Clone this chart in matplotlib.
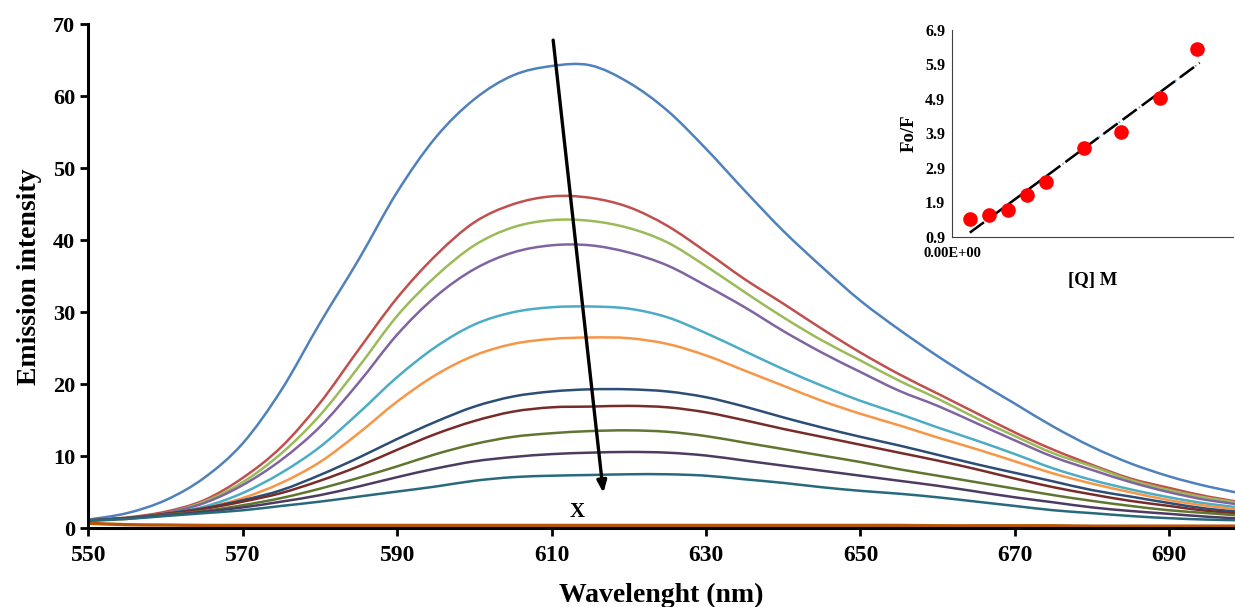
import numpy as np
import matplotlib.pyplot as plt
from matplotlib.path import Path
from matplotlib.patches import PathPatch
from matplotlib.ticker import FormatStrFormatter

plt.rcParams['font.family'] = ['Liberation Serif', 'DejaVu Serif']
plt.rcParams['font.weight'] = 'bold'

# Emission spectra (nm vs intensity), one series per quencher addition
wavelength = [550, 555, 560, 565, 570, 575, 580, 585, 590, 595, 600, 605, 610, 615, 620, 625,
              630, 635, 640, 645, 650, 655, 660, 665, 670, 675, 680, 685, 690, 695, 700]

s1 = [1.2, 2.1, 3.9, 7.0, 11.8, 19.2, 28.5, 37.3, 46.7, 54.3, 59.6, 62.9, 64.2, 64.3, 61.9, 58.0,
      52.7, 46.9, 41.3, 36.3, 31.6, 27.6, 23.9, 20.5, 17.3, 14.1, 11.3, 9.0, 7.2, 5.8, 4.7]
s2 = [1.1, 1.5, 2.3, 3.9, 7.0, 11.3, 17.4, 24.8, 32.0, 37.9, 42.5, 45.0, 46.1, 45.9, 44.6, 42.0,
      38.4, 34.6, 31.2, 27.7, 24.4, 21.4, 18.7, 16.0, 13.3, 10.9, 8.8, 6.9, 5.6, 4.4, 3.5]
s3 = [1.1, 1.4, 2.1, 3.7, 6.4, 10.4, 15.7, 22.4, 29.5, 35.0, 39.3, 41.8, 42.8, 42.7, 41.7, 39.7,
      36.4, 32.8, 29.3, 26.1, 23.3, 20.5, 18.0, 15.3, 12.8, 10.4, 8.6, 6.7, 5.3, 4.2, 3.4]
s4 = [1.1, 1.4, 2.1, 3.5, 6.0, 9.5, 14.1, 20.2, 26.9, 32.2, 36.0, 38.3, 39.3, 39.3, 38.3, 36.5,
      33.7, 30.7, 27.4, 24.4, 21.7, 19.1, 17.0, 14.6, 12.2, 9.9, 8.1, 6.4, 5.0, 3.9, 3.2]
s5 = [1.1, 1.3, 2.0, 3.0, 4.9, 7.7, 11.3, 16.0, 21.0, 25.2, 28.3, 30.0, 30.7, 30.8, 30.5, 29.3,
      27.1, 24.6, 22.1, 19.8, 17.7, 15.9, 14.0, 12.2, 10.3, 8.3, 6.7, 5.4, 4.3, 3.4, 2.8]
s6 = [1.0, 1.3, 1.9, 2.8, 4.2, 6.3, 9.2, 13.2, 17.6, 21.3, 24.0, 25.6, 26.3, 26.5, 26.4, 25.6,
      24.0, 21.9, 19.8, 17.7, 15.9, 14.3, 12.6, 11.0, 9.3, 7.6, 6.2, 5.0, 3.9, 3.1, 2.5]
s7 = [1.1, 1.4, 2.0, 2.8, 3.9, 5.3, 7.4, 9.8, 12.4, 14.8, 16.9, 18.3, 19.0, 19.3, 19.3, 19.0,
      18.2, 16.9, 15.4, 14.0, 12.7, 11.5, 10.2, 8.9, 7.7, 6.5, 5.3, 4.4, 3.5, 2.7, 2.2]
s8 = [1.1, 1.4, 2.0, 2.7, 3.7, 4.9, 6.6, 8.6, 10.9, 13.1, 14.9, 16.2, 16.8, 16.9, 17.0, 16.8,
      16.1, 15.0, 13.8, 12.7, 11.6, 10.5, 9.4, 8.2, 6.9, 5.7, 4.7, 3.8, 3.1, 2.4, 2.0]
s9 = [1.1, 1.4, 1.9, 2.4, 3.2, 4.2, 5.5, 7.0, 8.6, 10.3, 11.7, 12.7, 13.2, 13.5, 13.6, 13.4,
      12.8, 11.9, 11.0, 10.1, 9.2, 8.2, 7.3, 6.4, 5.5, 4.6, 3.8, 3.1, 2.5, 2.1, 1.7]
s10 = [1.1, 1.4, 1.8, 2.3, 2.9, 3.7, 4.6, 5.8, 7.1, 8.3, 9.3, 9.9, 10.3, 10.5, 10.6, 10.5,
       10.1, 9.4, 8.7, 8.0, 7.3, 6.6, 5.9, 5.1, 4.3, 3.6, 2.9, 2.4, 2.0, 1.6, 1.3]
s11 = [1.1, 1.3, 1.7, 2.1, 2.5, 3.1, 3.7, 4.4, 5.1, 5.8, 6.6, 7.1, 7.3, 7.4, 7.5, 7.5,
       7.3, 6.8, 6.3, 5.7, 5.2, 4.8, 4.3, 3.7, 3.1, 2.5, 2.1, 1.7, 1.4, 1.2, 1.1]
s12 = [0.7, 0.5, 0.45, 0.4, 0.4, 0.4, 0.4, 0.4, 0.4, 0.4, 0.4, 0.4, 0.4, 0.4, 0.4, 0.4,
       0.4, 0.4, 0.4, 0.4, 0.4, 0.4, 0.35, 0.35, 0.35, 0.35, 0.3, 0.3, 0.3, 0.3, 0.3]

series = [s1, s2, s3, s4, s5, s6, s7, s8, s9, s10, s11, s12]
colors = ['#4F81BD', '#C0504D', '#9BBB59', '#8064A2', '#4BACC6', '#F79646',
          '#2C4D75', '#772C2A', '#5F7530', '#4D3B62', '#276A7C', '#B65708']

# Stern-Volmer data for the inset
conc = [0.95e-6, 2.0e-6, 3.0e-6, 4.04e-6, 5.04e-6, 7.09e-6, 9.09e-6, 11.16e-6, 13.16e-6]
f0_f = [1.42, 1.55, 1.67, 2.13, 2.48, 3.47, 3.94, 4.94, 6.35]


def smooth_path(x, y):
    # smoothed line through the points (Catmull-Rom as cubic Bezier segments)
    p = np.column_stack([x, y]).astype(float)
    ext = np.vstack([p[0], p, p[-1]])
    verts = [p[0]]
    codes = [Path.MOVETO]
    for i in range(1, len(ext) - 2):
        c1 = ext[i] + (ext[i + 1] - ext[i - 1]) / 6
        c2 = ext[i + 1] - (ext[i + 2] - ext[i]) / 6
        verts += [c1, c2, ext[i + 1]]
        codes += [Path.CURVE4] * 3
    return Path(verts, codes)


fig = plt.figure(figsize=(12.35, 6.07), dpi=100)
ax = fig.add_axes([0.0715, 0.1297, 0.9285, 0.8303])

for s, c in zip(series, colors):
    lw = 2.4 if c == '#B65708' else 1.8
    ax.add_patch(PathPatch(smooth_path(wavelength, s), fill=False,
                           edgecolor=c, linewidth=lw, capstyle='round', joinstyle='round'))

ax.set_xlim(550, 698.5)
ax.set_ylim(0, 70)
ax.set_xticks(range(550, 700, 20))
ax.set_yticks(range(0, 71, 10))
ax.spines['top'].set_visible(False)
ax.spines['right'].set_visible(False)
ax.spines['left'].set_linewidth(2.2)
ax.spines['bottom'].set_linewidth(2.2)
ax.tick_params(axis='both', direction='out', length=6, width=2, labelsize=16)
ax.tick_params(axis='x', pad=6, labelsize=17)
ax.set_xlabel('Wavelenght (nm)', fontsize=20, fontweight='bold', labelpad=12)
ax.set_ylabel('Emission intensity', fontsize=20, fontweight='bold', labelpad=8)

# quenching direction
ax.annotate('', xy=(616.7, 4.9), xytext=(610.2, 67.8),
            arrowprops=dict(arrowstyle='-|>,head_width=0.28,head_length=0.7',
                            color='black', linewidth=2.4, shrinkA=0, shrinkB=0),
            zorder=5)
ax.text(613.3, 2.3, 'X', fontsize=15, fontweight='bold', ha='center', va='center')

# inset: F0/F vs [Q]
ins = fig.add_axes([0.771, 0.6096, 0.2275, 0.341])
ins.patch.set_alpha(0)
k, b = np.polyfit(conc, f0_f, 1)
xfit = np.array([conc[0], 13.3e-6])
ins.plot(xfit, k * xfit + b, color='#5B9BD5', linewidth=1.2, linestyle=(0, (1, 2)))
ins.plot(xfit, k * xfit + b, color='black', linewidth=1.8, linestyle=(0, (7, 2.5)))
ins.plot(conc, f0_f, 'o', color='#FF0000', markersize=9.5, zorder=4)
ins.set_xlim(0, 15.1e-6)
ins.set_ylim(0.9, 6.9)
ins.set_yticks(np.arange(0.9, 7.0, 1.0))
ins.yaxis.set_major_formatter(FormatStrFormatter('%.1f'))
ins.set_xticks([0])
ins.xaxis.set_major_formatter(FormatStrFormatter('%.2E'))
ins.spines['top'].set_visible(False)
ins.spines['right'].set_visible(False)
ins.spines['left'].set_color('#404040')
ins.spines['bottom'].set_color('#404040')
ins.tick_params(axis='both', length=0)
ins.tick_params(axis='y', pad=5, labelsize=11.5)
ins.tick_params(axis='x', pad=7, labelsize=10.5)
ins.set_xlabel('[Q] M', fontsize=13.5, fontweight='bold', labelpad=9)
ins.set_ylabel('Fo/F', fontsize=13.5, fontweight='bold', labelpad=5)

fig.savefig('out.png', dpi=100)
